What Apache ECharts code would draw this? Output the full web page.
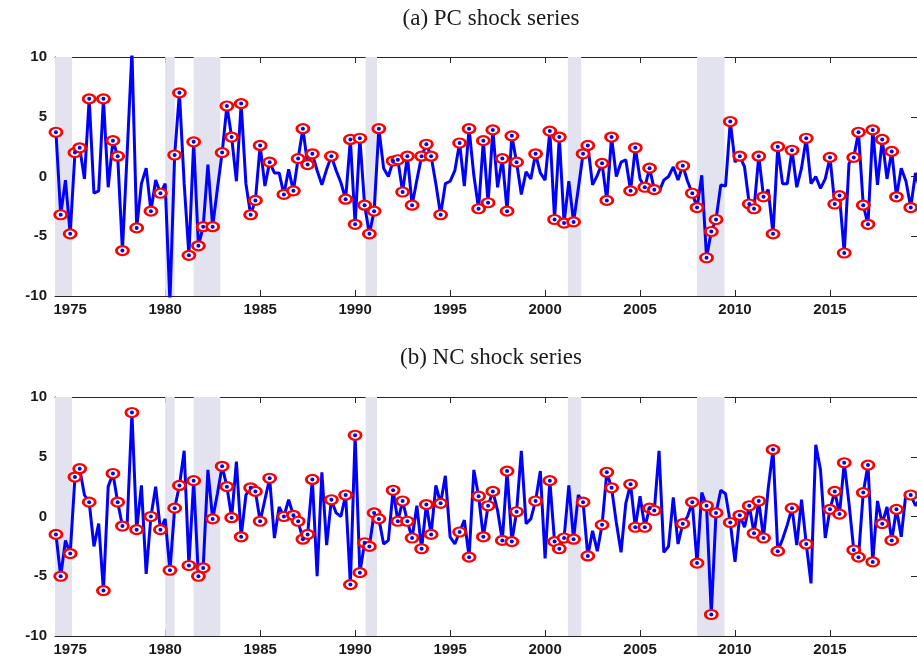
<!DOCTYPE html>
<html>
<head>
<meta charset="utf-8">
<script src="https://cdn.jsdelivr.net/npm/echarts@6/dist/echarts.min.js"></script>
<style>html,body{margin:0;padding:0;background:#fff}#c{width:917px;height:666px}</style>
</head>
<body>
<div id="c"></div>
<script>
// quarterly shock series, first observation 1974 Q2
const startYear = 1974.25
const pcShock = [
  3.7,-3.2,-0.3,-4.8,2.0,2.4,-0.2,6.5,-1.4,-1.2,
  6.5,-0.9,3.0,1.7,-6.2,2.0,10.5,-4.3,-0.6,0.7,
  -2.9,-0.3,-1.4,-0.6,-10.5,1.8,7.0,-0.6,-6.6,2.9,
  -5.8,-4.2,1.0,-4.2,-1.0,2.0,5.9,3.3,-0.4,6.1,
  -0.6,-3.2,-2.0,2.6,-0.8,1.2,0.3,0.3,-1.5,0.6,
  -1.2,1.5,4.0,1.0,1.9,0.5,-0.7,0.6,1.7,0.5,
  -0.5,-1.9,3.1,-4.0,3.2,-2.4,-4.8,-2.9,4.0,0.7,
  0.0,1.3,1.4,-1.3,1.7,-2.4,-0.3,1.7,2.7,1.7,
  -0.6,-3.2,-0.6,-0.4,0.5,2.8,-0.8,4.0,0.1,-2.7,
  3.0,-2.2,3.9,-0.9,1.5,-2.9,3.4,1.2,-1.5,0.4,
  -0.2,1.9,0.3,-0.3,3.8,-3.6,3.3,-3.9,-0.4,-3.8,
  -1.0,1.9,2.6,-0.7,0.1,1.1,-2.0,3.3,0.0,1.2,
  1.4,-1.2,2.4,-0.2,-0.9,0.7,-1.1,-1.3,-0.3,0.0,
  0.8,-0.3,0.9,-0.4,-1.4,-2.6,0.1,-6.8,-4.6,-3.6,
  -0.7,-0.8,4.6,1.2,1.7,0.8,-2.3,-2.7,1.7,-1.7,
  -1.1,-4.8,2.5,-0.6,-0.6,2.2,-0.9,0.7,3.2,-0.6,
  0.0,-1.0,-0.2,1.6,-2.3,-1.6,-6.4,1.1,1.6,3.7,
  -2.4,-4.0,3.9,-0.7,3.1,-0.2,2.1,-1.7,0.7,-0.4,
  -2.6,0.3,-1.2
]
const pcMarked = [0,1,3,4,5,7,10,12,13,14,17,20,22,25,26,28,29,30,31,33,35,36,37,39,41,42,43,45,48,50,51,52,53,54,58,
  61,62,63,64,65,66,67,68,71,72,73,74,75,77,78,79,81,85,87,89,90,91,92,94,95,96,97,101,104,105,106,107,109,111,112,115,116,117,
  121,122,124,125,126,132,134,135,137,138,139,142,144,146,147,148,149,151,152,155,158,163,164,165,166,168,169,170,171,172,174,176,177,180,182]
const ncShock = [
  -1.5,-5.0,-2.0,-3.1,3.3,4.0,1.8,1.2,-2.5,-0.6,
  -6.2,2.5,3.6,1.2,-0.8,-0.6,8.7,-1.1,2.6,-4.8,
  0.0,2.5,-1.1,-0.2,-4.5,0.7,2.6,5.5,-4.1,3.0,
  -5.0,-4.3,3.9,-0.2,1.9,4.2,2.5,-0.1,4.6,-1.7,
  1.8,2.4,2.1,-0.4,1.4,3.2,-1.8,0.8,0.0,1.4,
  0.1,-0.4,-1.9,-1.5,3.1,-5.0,3.7,-2.4,1.4,0.3,
  0.0,1.8,-5.7,6.8,-4.7,-2.2,-2.5,0.3,-0.2,-2.3,
  -2.0,2.2,-0.4,1.3,-0.4,-1.8,0.9,-2.7,1.0,-1.5,
  2.6,1.1,3.4,-1.7,-2.3,-1.3,-0.3,-3.4,3.9,1.7,
  -1.7,0.9,2.1,0.5,-2.0,3.8,-2.1,0.4,5.5,-0.6,
  -0.2,1.3,3.8,-3.5,3.0,-2.1,-2.7,-1.8,2.6,-1.9,
  1.8,1.2,-3.3,-1.2,-2.9,-0.7,3.7,2.4,-0.5,-3.0,
  1.1,2.7,-0.9,1.7,-0.9,0.7,0.5,5.5,-3.0,-2.5,
  1.6,-2.3,-0.6,0.0,1.2,-3.9,2.0,0.9,-8.2,0.3,
  2.2,1.9,-0.5,-3.8,0.1,-0.9,0.9,-1.4,1.3,-1.8,
  2.4,5.6,-2.9,-1.9,-0.7,0.7,-2.4,1.4,-2.3,-5.6,
  6.0,3.9,-1.8,0.6,2.1,0.2,4.5,1.1,-2.8,-3.4,
  2.0,4.3,-3.8,1.3,-0.6,0.8,-2.0,0.6,-1.7,2.0,
  1.8,0.9,1.5
]
const ncMarked = [0,1,3,4,5,7,10,12,13,14,16,17,20,22,24,25,26,28,29,30,31,33,35,36,37,39,41,42,43,45,48,50,51,52,53,54,58,
  61,62,63,64,65,66,67,68,71,72,73,74,75,77,78,79,81,85,87,89,90,91,92,94,95,96,97,101,104,105,106,107,109,111,112,115,116,117,
  121,122,124,125,126,132,134,135,137,138,139,142,144,146,147,148,149,151,152,155,158,163,164,165,166,168,169,170,171,172,174,176,177,180,182]
const recessions = [[1973.9, 1975.1], [1980.0, 1980.5], [1981.5, 1982.9], [1990.55, 1991.15], [2001.2, 2001.9], [2008.0, 2009.45]]
const yearTicks = [1975, 1980, 1985, 1990, 1995, 2000, 2005, 2010, 2015]
const panelTitles = ['(a) PC shock series', '(b) NC shock series']

const xMin = 1974.2, xMax = 2019.58
const tickFont = { fontFamily: 'Liberation Sans, Arial, sans-serif', fontWeight: 'bold', fontSize: 15, color: '#1a1a1a' }
const boxLine = { show: true, onZero: false, lineStyle: { color: '#262626', width: 1 } }
const tickStyle = { lineStyle: { color: '#262626' } }

const pts = arr => arr.map((v, i) => [startYear + i / 4, v])
const marks = (arr, idx) => idx.filter(i => i < arr.length).map(i => [startYear + i / 4, arr[i]])

const grids = [
  { left: 55, right: 0, top: 57, height: 239 },
  { left: 55, right: 0, top: 397, height: 239 },
]
const xAxis = [], yAxis = [], series = []
const datasets = [pcShock, ncShock], markSets = [pcMarked, ncMarked]
grids.forEach((g, k) => {
  xAxis.push({
    type: 'value', gridIndex: k, min: xMin, max: xMax, position: 'bottom',
    axisLine: boxLine, splitLine: { show: false },
    axisTick: Object.assign({ inside: true, length: 6, customValues: yearTicks }, tickStyle),
    axisLabel: Object.assign({ customValues: yearTicks, margin: 6, formatter: v => String(v) }, tickFont),
  }, {
    type: 'value', gridIndex: k, min: xMin, max: xMax, position: 'top',
    axisLine: boxLine, splitLine: { show: false }, axisLabel: { show: false },
    axisTick: Object.assign({ inside: true, length: 6, customValues: yearTicks }, tickStyle),
  })
  yAxis.push({
    type: 'value', gridIndex: k, min: -10, max: 10, interval: 5, position: 'left',
    axisLine: boxLine, splitLine: { show: false },
    axisTick: Object.assign({ show: true, inside: true, length: 6 }, tickStyle),
    axisLabel: Object.assign({ margin: 8 }, tickFont),
  }, {
    type: 'value', gridIndex: k, min: -10, max: 10, interval: 5, position: 'right',
    axisLine: boxLine, splitLine: { show: false },
    axisTick: Object.assign({ show: true, inside: true, length: 6 }, tickStyle),
    axisLabel: { show: false },
  })
  const xi = k * 2, yi = k * 2
  series.push({
    type: 'line', xAxisIndex: xi, yAxisIndex: yi, data: pts(datasets[k]),
    symbol: 'none', lineStyle: { color: '#0000ff', width: 3 }, z: 2, clip: true,
    markArea: {
      silent: true, itemStyle: { color: '#e3e3ef' },
      data: recessions.map(r => [{ xAxis: r[0] }, { xAxis: r[1] }]),
    },
  }, {
    type: 'scatter', xAxisIndex: xi, yAxisIndex: yi, data: marks(datasets[k], markSets[k]),
    symbol: 'circle', symbolSize: [12, 9], z: 3,
    itemStyle: { color: '#ffffff', borderColor: '#ff0000', borderWidth: 2.5, opacity: 1 },
  }, {
    type: 'scatter', xAxisIndex: xi, yAxisIndex: yi, data: marks(datasets[k], markSets[k]),
    symbol: 'circle', symbolSize: 4, z: 4, itemStyle: { color: '#0000ff', opacity: 1 },
  })
})

const chart = echarts.init(document.getElementById('c'), null, { renderer: 'canvas' })
chart.setOption({
  animation: false,
  title: panelTitles.map((t, k) => ({
    text: t, left: 486, textAlign: 'center', top: k === 0 ? 2 : 341,
    textStyle: { fontFamily: 'Liberation Serif, Times New Roman, serif', fontWeight: 'normal', fontSize: 23, color: '#1a1a1a' },
  })),
  grid: grids, xAxis, yAxis, series,
})
</script>
</body>
</html>
